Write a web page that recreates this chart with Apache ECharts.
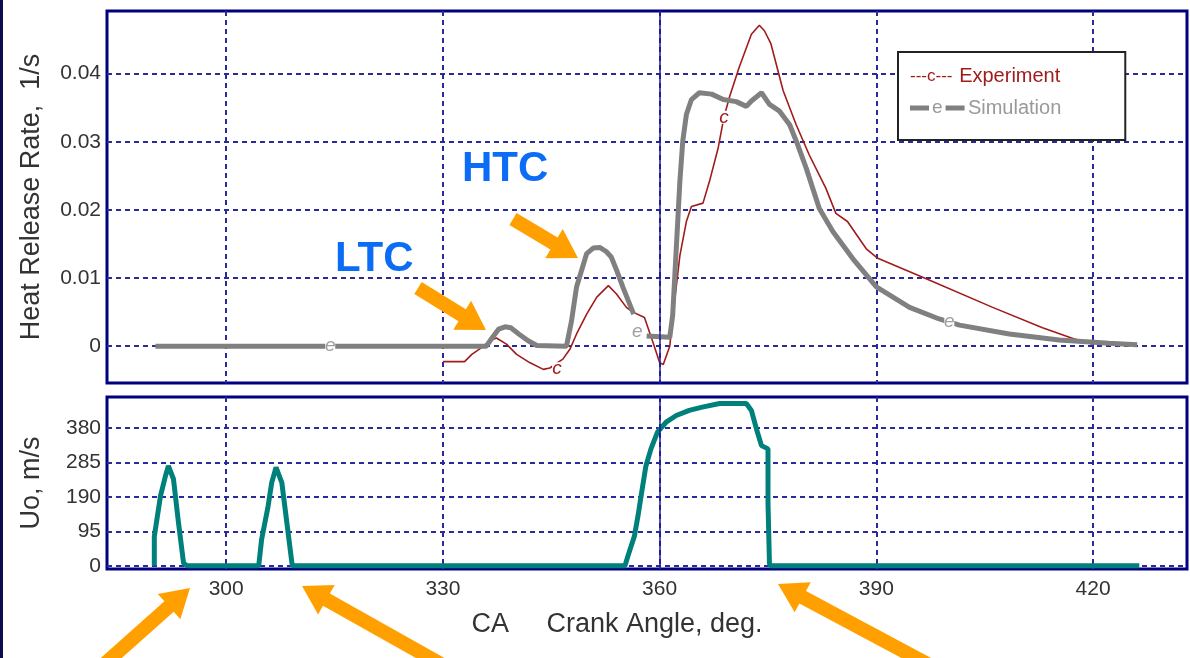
<!DOCTYPE html>
<html>
<head>
<meta charset="utf-8">
<script src="https://cdn.jsdelivr.net/npm/echarts@6/dist/echarts.min.js"></script>
<style>
  html, body { margin: 0; padding: 0; background: #fff; }
  #chart { width: 1190px; height: 658px; }
</style>
</head>
<body>
<div id="chart"></div>
<script>
// ---- measured heat release rate, 1/s (experiment) ----
const expAngle = [330.0, 333.0, 334.0, 335.1, 336.5, 337.4, 338.8, 340.2, 342.0, 343.9, 344.8, 346.6, 347.6, 348.5,
  349.9, 351.3, 352.9, 354.0, 355.4, 356.3, 357.9, 359.0, 360.0, 360.5, 361.4, 362.1, 362.8, 363.7, 364.4, 366.0,
  366.9, 368.1, 368.9, 369.7, 371.0, 372.7, 373.8, 374.5, 375.4, 377.1, 378.9, 380.7, 383.0, 384.4, 386.0, 388.6,
  390.2, 396.9, 406.1, 413.0, 417.6, 420.0];
const expHRR = [-0.00227, -0.00227, -0.0012, -0.0004, 0.0008, 0.0012, 0.0003, -0.0012, -0.0024, -0.0034, -0.0032,
  -0.0019, -0.0004, 0.0018, 0.0047, 0.0072, 0.0089, 0.0077, 0.0057, 0.0050, 0.0042, 0.0008, -0.0024, -0.0027, 0.0,
  0.0069, 0.0133, 0.0183, 0.0205, 0.0210, 0.0242, 0.0291, 0.0336, 0.0367, 0.0409, 0.0458, 0.0471, 0.0463, 0.0444,
  0.0375, 0.0325, 0.0281, 0.0232, 0.0195, 0.0183, 0.0143, 0.0129, 0.0099, 0.0057, 0.0027, 0.0010, 0.0003];

// ---- simulated heat release rate, 1/s (null = break in the trace) ----
const simAngle = [290.2, 336.0, 336.8, 337.7, 338.6, 339.4, 340.5, 341.8, 343.0, 347.1, 347.8, 348.5, 349.9, 350.8,
  351.7, 352.6, 353.3, 354.1, 354.9, 356.4, 357.3, 358.2, 361.4, 361.8, 362.3, 362.8, 363.2, 363.7, 364.4, 365.5,
  367.2, 368.8, 370.6, 372.0, 372.7, 374.1, 375.2, 376.6, 378.0, 379.1, 380.3, 382.1, 384.0, 386.7, 390.0, 394.6,
  398.7, 401.5, 408.4, 415.3, 422.2, 426.1];
const simHRR = [0, 0, 0.0012, 0.0025, 0.00285, 0.0027, 0.0018, 0.0008, 0.0001, 0, 0.0037, 0.0087, 0.0136, 0.0144,
  0.0145, 0.0139, 0.0131, 0.0110, 0.0087, 0.0047, null, 0.0015, 0.0013, 0.0045, 0.0143, 0.0242, 0.0301, 0.0340,
  0.0362, 0.0372, 0.0370, 0.0362, 0.0359, 0.0352, 0.0360, 0.0372, 0.0355, 0.0345, 0.0325, 0.0296, 0.0261, 0.0202,
  0.0168, 0.0129, 0.0087, 0.0057, 0.0040, 0.0031, 0.0018, 0.0009, 0.00044, 0.0002];

// ---- injection velocity Uo, m/s ----
const uoAngle = [290.05, 290.05, 290.9, 291.6, 292.0, 292.7, 293.4, 294.1, 294.6, 304.5, 304.9, 305.8, 306.3, 306.9,
  307.7, 308.4, 309.1, 309.2, 355.2, 355.6, 356.5, 357.0, 357.5, 358.1, 358.8, 359.7, 360.9, 362.3, 364.1, 365.9,
  368.3, 372.0, 372.7, 373.4, 374.1, 375.0, 375.0, 375.2, 375.3, 426.4];
const uoSpeed = [0, 81, 192, 248, 275, 239, 118, 7, 0, 0, 72, 164, 229, 271, 229, 118, 7, 0, 0, 26, 81, 137, 201, 275,
  322, 368, 396, 414, 428, 437, 447, 447, 428, 377, 331, 322, 174, 7, 0, 0];

// ---- line-marker letters placed along each trace ----
const simMarkAngle = [314.4, 356.9, 400.1];
const simMarkHRR = [0, 0.0021, 0.0036];
const expMarkAngle = [345.8, 368.9];
const expMarkHRR = [-0.0033, 0.0336];

// ---- axis ticks ----
const angleTicks = [300, 330, 360, 390, 420];
const hrrTicks = [0, 0.01, 0.02, 0.03, 0.04];
const uoTicks = [0, 95, 190, 285, 380];
const tdcAngle = 360;

const pairs = (xs, ys) => xs.map((x, i) => [x, ys[i]]);

const NAVY = '#000080';
const GRIDCOL = '#2a2a9c';
const FONT = '"Liberation Sans", Arial, sans-serif';

function arrowPoints(x1, y1, x2, y2, sw, hw, hl) {
  const dx = x2 - x1, dy = y2 - y1, L = Math.hypot(dx, dy);
  const ux = dx / L, uy = dy / L, px = -uy, py = ux;
  const bx = x2 - ux * hl, by = y2 - uy * hl;
  return [
    [x1 + px * sw / 2, y1 + py * sw / 2],
    [bx + px * sw / 2, by + py * sw / 2],
    [bx + px * hw / 2, by + py * hw / 2],
    [x2, y2],
    [bx - px * hw / 2, by - py * hw / 2],
    [bx - px * sw / 2, by - py * sw / 2],
    [x1 - px * sw / 2, y1 - py * sw / 2]
  ];
}
const arrowDefs = [
  [418, 288, 486, 330],
  [513, 219, 578, 258],
  [100, 668, 190, 588],
  [448, 668, 302, 586],
  [935, 668, 778, 584]
];

function letterMarks(xs, ys, letter, color) {
  return {
    symbol: 'rect',
    symbolSize: [10, 13],
    itemStyle: { color: '#fff' },
    silent: true,
    label: {
      show: true, position: 'inside', formatter: letter, color: color,
      fontSize: 19, fontStyle: 'italic', fontFamily: FONT
    },
    data: xs.map((x, i) => ({ coord: [x, ys[i]] }))
  };
}

const splitStyle = { show: true, lineStyle: { color: GRIDCOL, width: 2, type: [5, 4] } };
const tickLabel = { color: '#333', fontSize: 21, fontFamily: FONT };

const chart = echarts.init(document.getElementById('chart'), null, { renderer: 'canvas' });
chart.setOption({
  animation: false,
  backgroundColor: '#fff',
  grid: [
    { left: 107, top: 11, width: 1080, height: 372, show: true, borderColor: NAVY, borderWidth: 3, backgroundColor: '#fff' },
    { left: 107, top: 397, width: 1080, height: 172, show: true, borderColor: NAVY, borderWidth: 3, backgroundColor: '#fff' }
  ],
  xAxis: [
    {
      gridIndex: 0, type: 'value', min: 283.5, max: 433,
      axisLine: { show: false },
      axisTick: { show: false, customValues: angleTicks },
      axisLabel: { show: false, customValues: angleTicks },
      splitLine: splitStyle
    },
    {
      gridIndex: 1, type: 'value', min: 283.5, max: 433,
      axisLine: { show: false },
      axisTick: { show: false, customValues: angleTicks },
      axisLabel: Object.assign({ show: true, customValues: angleTicks, margin: 10 }, tickLabel),
      splitLine: splitStyle,
      name: 'CA     Crank Angle, deg.',
      nameLocation: 'middle',
      nameGap: 42,
      nameTextStyle: { color: '#333', fontSize: 27, fontFamily: FONT, padding: [0, 60, 0, 0] }
    }
  ],
  yAxis: [
    {
      gridIndex: 0, type: 'value', min: -0.0054, max: 0.0492,
      axisLine: { show: false },
      axisTick: { show: false, customValues: hrrTicks },
      axisLabel: Object.assign({
        customValues: hrrTicks, margin: 6,
        formatter: v => (v === 0 ? '0' : v.toFixed(2))
      }, tickLabel),
      splitLine: splitStyle,
      name: 'Heat Release Rate,  1/s',
      nameLocation: 'middle',
      nameGap: 62,
      nameTextStyle: { color: '#333', fontSize: 27, fontFamily: FONT }
    },
    {
      gridIndex: 1, type: 'value', min: -9, max: 465,
      axisLine: { show: false },
      axisTick: { show: false, customValues: uoTicks },
      axisLabel: Object.assign({ customValues: uoTicks, margin: 6 }, tickLabel),
      splitLine: splitStyle,
      name: 'Uo, m/s',
      nameLocation: 'middle',
      nameGap: 62,
      nameTextStyle: { color: '#333', fontSize: 27, fontFamily: FONT }
    }
  ],
  legend: {
    orient: 'vertical',
    left: 898, top: 52,
    padding: [14, 64, 22, 6],
    itemGap: 12,
    itemWidth: 0, itemHeight: 0,
    borderColor: '#222', borderWidth: 2, borderRadius: 0,
    backgroundColor: '#fff',
    selectedMode: false,
    data: ['Experiment', 'Simulation'],
    formatter: name => name === 'Experiment'
      ? '{es|---c---}  {et|Experiment}'
      : '{bar| }{se|e}{bar| } {st|Simulation}',
    textStyle: {
      fontFamily: FONT,
      rich: {
        es: { color: '#a01c1c', fontSize: 17, fontFamily: FONT },
        et: { color: '#a01c1c', fontSize: 20, fontFamily: FONT },
        bar: { width: 19, height: 5, backgroundColor: '#808080', fontSize: 5, verticalAlign: 'middle' },
        se: { color: '#999', fontSize: 19, fontFamily: FONT, padding: [0, 3, 0, 3] },
        st: { color: '#999', fontSize: 20, fontFamily: FONT }
      }
    }
  },
  series: [
    {
      name: 'Experiment', type: 'line', xAxisIndex: 0, yAxisIndex: 0,
      data: pairs(expAngle, expHRR),
      showSymbol: false, symbol: 'none', z: 3,
      lineStyle: { color: '#a01c1c', width: 1.6 },
      itemStyle: { color: '#a01c1c' },
      markPoint: letterMarks(expMarkAngle, expMarkHRR, 'c', '#a01c1c'),
      markLine: {
        silent: true, symbol: 'none', label: { show: false },
        lineStyle: { color: '#1c1c9c', width: 1.5, type: 'solid' },
        data: [{ xAxis: tdcAngle }]
      }
    },
    {
      name: 'Simulation', type: 'line', xAxisIndex: 0, yAxisIndex: 0,
      data: pairs(simAngle, simHRR),
      showSymbol: false, symbol: 'none', connectNulls: false, z: 4,
      lineStyle: { color: '#808080', width: 5 },
      itemStyle: { color: '#808080' },
      markPoint: letterMarks(simMarkAngle, simMarkHRR, 'e', '#a0a0a0')
    },
    {
      name: 'Uo', type: 'line', xAxisIndex: 1, yAxisIndex: 1,
      data: pairs(uoAngle, uoSpeed),
      showSymbol: false, symbol: 'none', z: 3,
      lineStyle: { color: '#00807a', width: 5 },
      itemStyle: { color: '#00807a' },
      markLine: {
        silent: true, symbol: 'none', label: { show: false },
        lineStyle: { color: '#1c1c9c', width: 1.5, type: 'solid' },
        data: [{ xAxis: tdcAngle }]
      }
    }
  ],
  graphic: [
    { type: 'rect', left: 0, top: 0, shape: { width: 3, height: 658 }, style: { fill: '#0c0c50' }, silent: true },
    ...arrowDefs.map(a => ({
      type: 'polygon', silent: true, z: 100,
      shape: { points: arrowPoints(a[0], a[1], a[2], a[3], 14, 34, 28) },
      style: { fill: '#ffa000' }
    })),
    {
      type: 'text', silent: true, z: 100,
      style: { x: 335, y: 259, text: 'LTC', font: 'bold 42px "Liberation Sans", Arial, sans-serif', fill: '#0b6cf5', verticalAlign: 'middle' }
    },
    {
      type: 'text', silent: true, z: 100,
      style: { x: 462, y: 169, text: 'HTC', font: 'bold 42px "Liberation Sans", Arial, sans-serif', fill: '#0b6cf5', verticalAlign: 'middle' }
    }
  ]
});
</script>
</body>
</html>
